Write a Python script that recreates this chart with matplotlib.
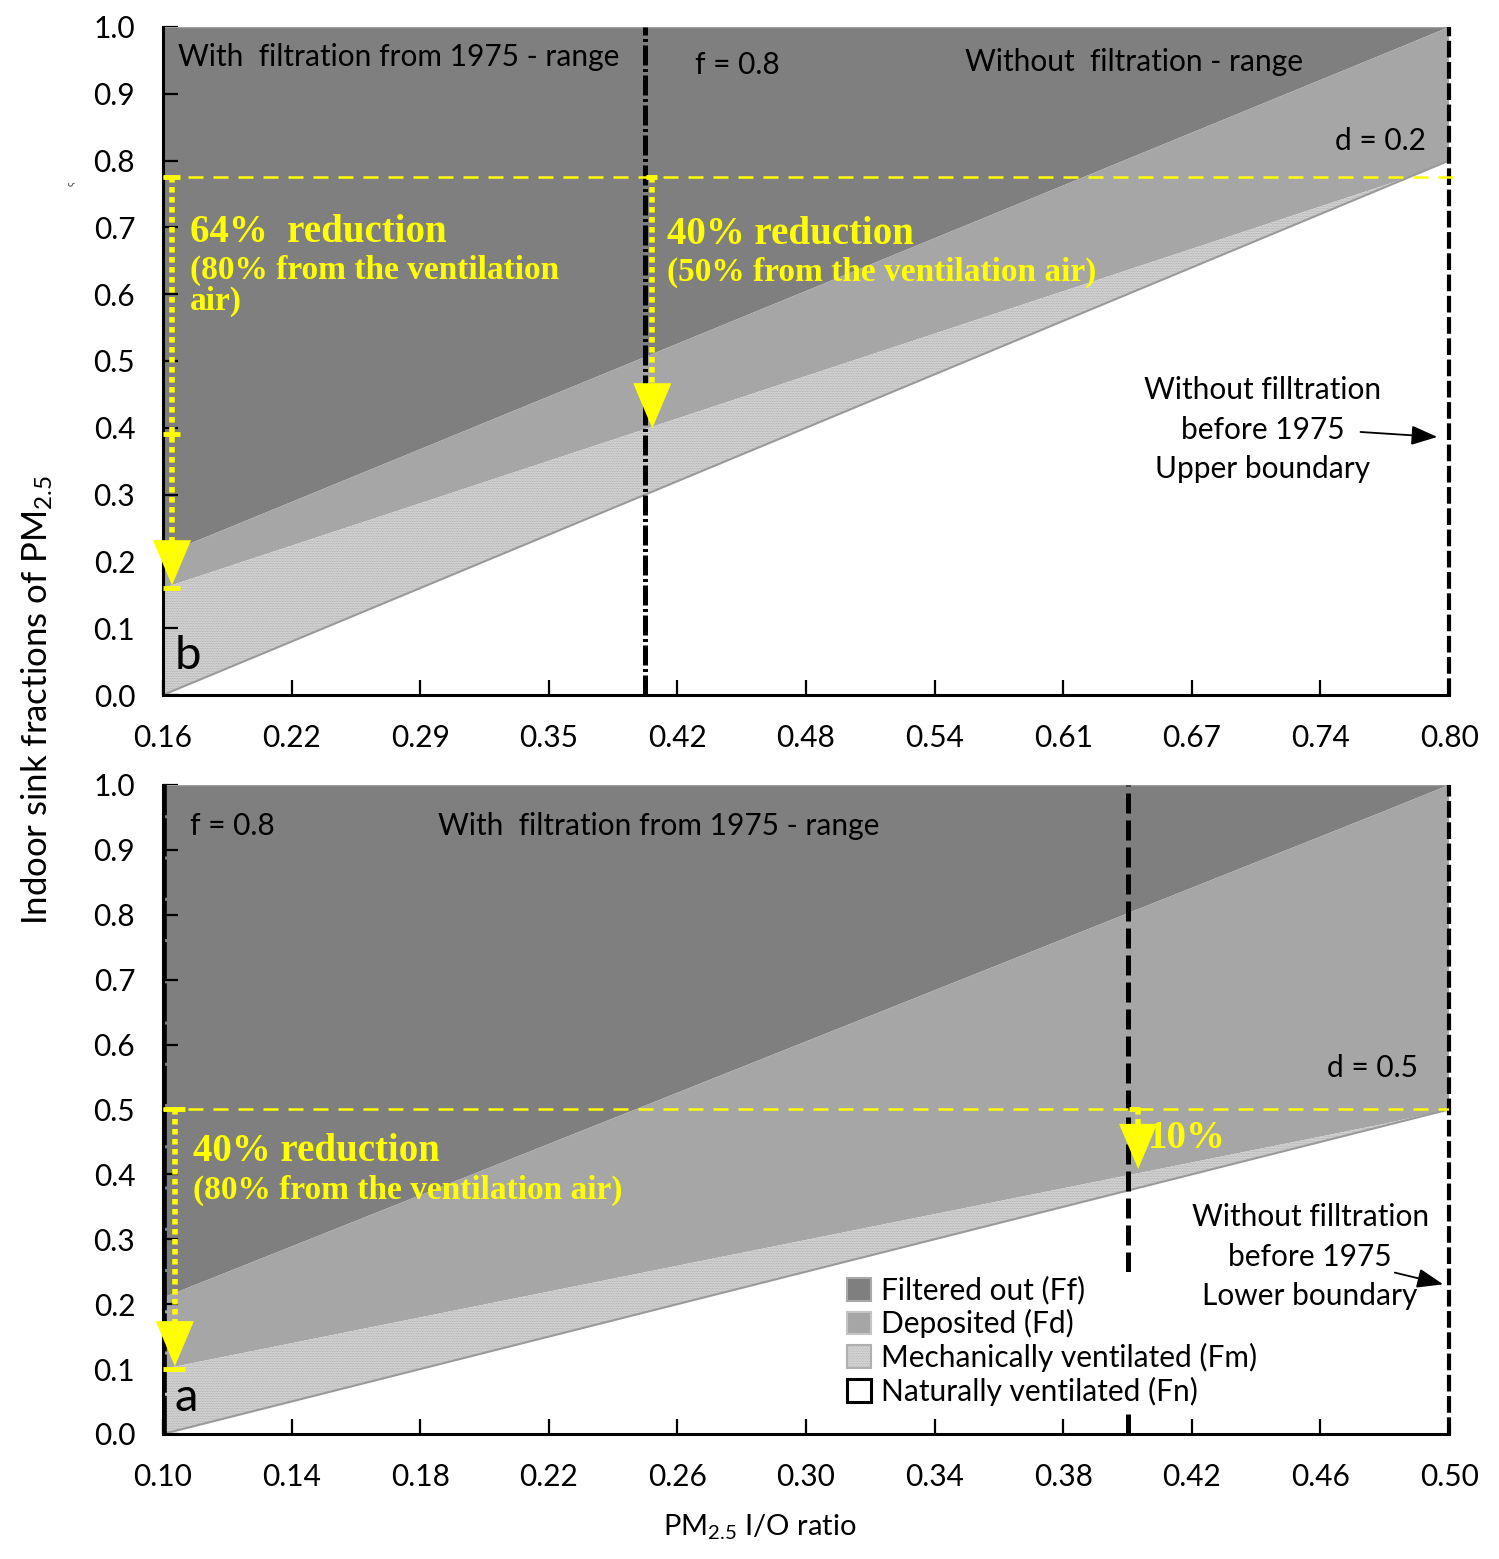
import matplotlib
matplotlib.use('Agg')
import matplotlib.pyplot as plt
from matplotlib.patches import Patch
import numpy as np

plt.rcParams['font.family'] = ['Lato', 'DejaVu Sans']
plt.rcParams['mathtext.fontset'] = 'custom'
plt.rcParams['mathtext.rm'] = 'Lato'
plt.rcParams['mathtext.it'] = 'Lato:italic'
plt.rcParams['hatch.linewidth'] = 0.6

# ---------------- data ----------------
# panel b (top)
b_x = [0.16, 0.78, 0.80]
b_fn_top = [0.00, 0.775, 0.80]      # naturally ventilated (upper edge)
b_fm_top = [0.16, 0.775, 0.80]      # + mechanically ventilated
b_fd_top = [0.21, 0.975, 1.00]      # + deposited
b_ticklabels = ['0.16', '0.22', '0.29', '0.35', '0.42', '0.48', '0.54', '0.61', '0.67', '0.74', '0.80']
b_filter_x = 0.40
b_right_x = 0.80
b_level = 0.775
b_arrow_x = [0.1645, 0.4035]
b_arrow_tip = [0.16, 0.395]
b_caps = [0.775, 0.39, 0.16]

# panel a (bottom)
a_x = [0.10, 0.48, 0.50]
a_fn_top = [0.00, 0.475, 0.50]
a_fm_top = [0.10, 0.478, 0.50]
a_fd_top = [0.21, 0.96, 1.00]
a_ticklabels = ['0.10', '0.14', '0.18', '0.22', '0.26', '0.30', '0.34', '0.38', '0.42', '0.46', '0.50']
a_left_x = 0.10
a_filter_x = 0.40
a_right_x = 0.50
a_level = 0.50
a_arrow_x = [0.1037, 0.4033]
a_arrow_tip = [0.10, 0.404]
a_caps = [0.50, 0.10]

y_ticks = [0.0, 0.1, 0.2, 0.3, 0.4, 0.5, 0.6, 0.7, 0.8, 0.9, 1.0]

C_FF = '#7f7f7f'
C_FD = '#a6a6a6'
C_FM = '#dcdcdc'
C_HATCH = '#a4a4a4'
YEL = '#ffff00'
FS = 21.5

fig = plt.figure(figsize=(14.99, 15.59), dpi=100)
axb = fig.add_axes([0.1087, 0.5542, 0.858, 0.4285])
axa = fig.add_axes([0.1087, 0.0802, 0.858, 0.4163])


def draw_areas(ax, x, fn, fm, fd):
    ax.fill_between(x, fd, 1.0, facecolor=C_FF, edgecolor='none', zorder=1)
    ax.fill_between(x, fm, fd, facecolor=C_FD, edgecolor='none', zorder=1)
    ax.fill_between(x, fn, fm, facecolor=C_FM, hatch='..........', edgecolor=C_HATCH,
                    linewidth=0, zorder=1)
    ax.plot(x, fn, color='#9a9a9a', lw=1.5, zorder=2)
    ax.plot([x[0], x[-1]], [1.0, 1.0], color='#a0a0a0', lw=1.0, zorder=2)


def style_axes(ax, x0, x1, labels):
    ax.set_xlim(x0, x1)
    ax.set_ylim(0, 1.0)
    ax.set_xticks(np.linspace(x0, x1, len(labels)))
    ax.set_xticklabels(labels)
    ax.set_yticks(y_ticks)
    ax.set_yticklabels(['%.1f' % v for v in y_ticks])
    ax.tick_params(direction='in', length=11, width=1.6, labelsize=FS, pad=21)
    ax.tick_params(axis='y', pad=20)
    for s in ['top', 'right']:
        ax.spines[s].set_visible(False)
    for s in ['left', 'bottom']:
        ax.spines[s].set_linewidth(2.2)
        ax.spines[s].set_zorder(5)


def yellow_arrow(ax, x, y0, tip, head=0.045):
    ax.plot([x, x], [y0, tip + head * 0.6], color=YEL, lw=4, ls=(0, (1, 0.8)),
            solid_capstyle='butt', zorder=7)
    ax.annotate('', xy=(x, tip), xytext=(x, tip + head), zorder=8,
                arrowprops=dict(arrowstyle='-|>,head_length=1.3,head_width=0.55',
                                color=YEL, lw=0, mutation_scale=25))


# ---------------- panel b ----------------
draw_areas(axb, b_x, b_fn_top, b_fm_top, b_fd_top)
style_axes(axb, b_x[0], b_x[-1], b_ticklabels)
axb.axvline(b_filter_x, color='black', lw=3.6, ls=(0, (4, 0.7, 0.6, 0.7)), zorder=6)
axb.axvline(b_right_x, color='black', lw=3.0, ls=(0, (4, 1.1)), zorder=6, clip_on=False)
axb.axhline(b_level, xmin=0, xmax=1.01, color=YEL, lw=1.8, ls=(0, (6, 4)), zorder=6, clip_on=False)
axb.hlines(b_caps, 0.1600, 0.1685, color=YEL, lw=3.5, zorder=7)
axb.hlines([b_level], 0.4005, 0.4060, color=YEL, lw=3.5, zorder=7)
for xx, tt in zip(b_arrow_x, b_arrow_tip):
    yellow_arrow(axb, xx, b_level, tt)

tk = dict(transform=axb.transAxes, color='black', fontsize=FS, va='center', zorder=9)
axb.text(0.0117, 0.955, 'With  filtration from 1975 - range', ha='left', **tk)
axb.text(0.4137, 0.943, 'f = 0.8', ha='left', **tk)
axb.text(0.6236, 0.9476, 'Without  filtration - range', ha='left', **tk)
axb.text(0.911, 0.829, 'd = 0.2', ha='left', **tk)
axb.text(0.855, 0.397, 'Without filltration\nbefore 1975\nUpper boundary', ha='center',
         linespacing=1.5, **tk)
axb.annotate('', xy=(0.993, 0.386), xytext=(0.929, 0.394), xycoords='axes fraction',
             arrowprops=dict(arrowstyle='-|>,head_length=0.8,head_width=0.3', color='black',
                             lw=1.3, mutation_scale=20), zorder=9)
axb.text(0.009, 0.058, 'b', transform=axb.transAxes, fontsize=34, ha='left', va='center', zorder=9)
axb.text(-0.072, 0.766, 'ς', transform=axb.transAxes, fontsize=7, rotation=90,
         ha='center', va='center', color='#333333')

yk = dict(transform=axb.transAxes, color=YEL, family=['Liberation Serif'], weight='bold',
          ha='left', va='center', zorder=9)
axb.text(0.021, 0.693, '64%  reduction', fontsize=28, **yk)
axb.text(0.021, 0.612, '(80% from the ventilation\nair)', fontsize=24, linespacing=1.0, **yk)
axb.text(0.392, 0.690, '40% reduction', fontsize=28, **yk)
axb.text(0.392, 0.633, '(50% from the ventilation air)', fontsize=24, **yk)

# ---------------- panel a ----------------
draw_areas(axa, a_x, a_fn_top, a_fm_top, a_fd_top)
style_axes(axa, a_x[0], a_x[-1], a_ticklabels)
axa.axvline(a_left_x, color='black', lw=5.5, ls=(0, (5, 0.4)), zorder=6)
axa.axvline(a_filter_x, color='black', lw=3.6, ls=(0, (4, 1.4)), zorder=3)
axa.axvline(a_right_x, color='black', lw=3.0, ls=(0, (4, 1.1)), zorder=6, clip_on=False)
axa.axhline(a_level, xmin=0, xmax=1.0, color=YEL, lw=1.8, ls=(0, (6, 4)), zorder=6)
axa.hlines(a_caps, 0.1000, 0.1068, color=YEL, lw=3.5, zorder=7)
axa.hlines([a_level], 0.4003, 0.4040, color=YEL, lw=3.5, zorder=7)
for xx, tt in zip(a_arrow_x, a_arrow_tip):
    yellow_arrow(axa, xx, a_level, tt, head=0.045)

tk = dict(transform=axa.transAxes, color='black', fontsize=FS, va='center', zorder=9)
axa.text(0.021, 0.937, 'f = 0.8', ha='left', **tk)
axa.text(0.2138, 0.937, 'With  filtration from 1975 - range', ha='left', **tk)
axa.text(0.905, 0.564, 'd = 0.5', ha='left', **tk)
axa.text(0.892, 0.273, 'Without filltration\nbefore 1975\nLower boundary', ha='center',
         linespacing=1.5, **tk)
axa.annotate('', xy=(0.9975, 0.2296), xytext=(0.9557, 0.2496), xycoords='axes fraction',
             arrowprops=dict(arrowstyle='-|>,head_length=0.8,head_width=0.3', color='black',
                             lw=1.3, mutation_scale=20), zorder=9)
axa.text(0.009, 0.055, 'a', transform=axa.transAxes, fontsize=34, ha='left', va='center', zorder=9)

yk = dict(transform=axa.transAxes, color=YEL, family=['Liberation Serif'], weight='bold',
          ha='left', va='center', zorder=9)
axa.text(0.0233, 0.4345, '40% reduction', fontsize=28, **yk)
axa.text(0.0233, 0.376, '(80% from the ventilation air)', fontsize=24, **yk)
axa.text(0.766, 0.456, '10%', fontsize=28, **yk)

handles = [
    Patch(facecolor=C_FF, edgecolor='#a8a8a8', lw=1.5, label='Filtered out (Ff)'),
    Patch(facecolor=C_FD, edgecolor='#c4c4c4', lw=1.5, label='Deposited (Fd)'),
    Patch(facecolor=C_FM, edgecolor='#b0b0b0', hatch='..........', lw=1.5, label='Mechanically ventilated (Fm)'),
    Patch(facecolor='white', edgecolor='black', lw=2.2, label='Naturally ventilated (Fn)'),
]
leg = axa.legend(handles=handles, loc='upper left', bbox_to_anchor=(0.5285, 0.250),
                 frameon=True, facecolor='white', edgecolor='none', framealpha=1,
                 fontsize=FS, handlelength=0.8, handleheight=0.8, handletextpad=0.35,
                 labelspacing=0.15, borderpad=0.15, borderaxespad=0)
leg.set_zorder(8)

fig.text(0.0247, 0.551, 'Indoor sink fractions of PM$_{2.5}$', rotation=90, fontsize=25,
         ha='center', va='center')
fig.text(0.507, 0.0205, 'PM$_{2.5}$ I/O ratio', fontsize=21, ha='center', va='center')

fig.savefig('out.png', dpi=100, facecolor='white')
